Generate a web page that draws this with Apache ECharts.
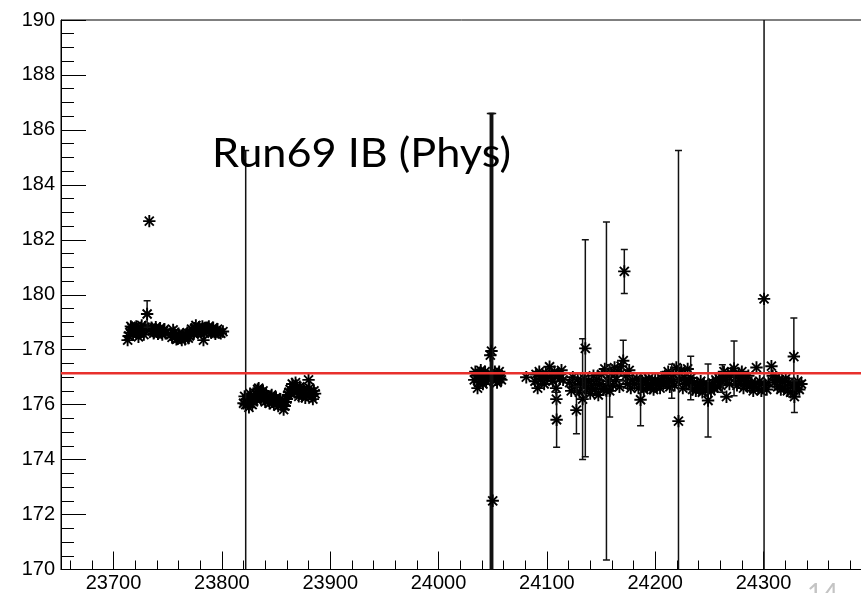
<!DOCTYPE html>
<html>
<head>
<meta charset="utf-8">
<script src="https://cdn.jsdelivr.net/npm/echarts@6/dist/echarts.min.js"></script>
<style>
  html, body { margin: 0; padding: 0; background: #fff; }
  #chart { width: 861px; height: 593px; }
</style>
</head>
<body>
<div id="chart"></div>
<script>
// Gain per run: points whose error bar stays hidden under the marker
const bulkRuns = [
  23713, 23715, 23717, 23719, 23721, 23723, 23725, 23727, 23729, 23734, 23736, 23738, 23740, 23742, 23744, 23746, 23748,
  23753, 23755, 23757, 23759, 23761, 23763, 23765, 23767, 23769, 23771, 23773, 23775, 23777, 23779, 23781, 23783, 23785,
  23787, 23789, 23791, 23793, 23795, 23797, 23801,
  23820, 23823, 23825, 23827, 23829, 23831, 23833, 23835, 23837, 23839, 23841, 23843, 23845, 23847, 23849, 23851, 23853,
  23855, 23857, 23859, 23861, 23863, 23865, 23867, 23869, 23871, 23873, 23875, 23877, 23882, 23884, 23886,
  24033, 24035, 24038, 24040, 24042, 24044, 24046, 24051, 24053, 24055, 24057,
  24081, 24089, 24090, 24091.5, 24093, 24094.5, 24096, 24097.5, 24099, 24100.5, 24102.5, 24104, 24105.5, 24107, 24108.5,
  24108.8, 24110.5, 24112, 24113.5, 24115,
  24121, 24122.5, 24124, 24125.5, 24128.5, 24130, 24131.5, 24134.5, 24137, 24138.5, 24140, 24141.5, 24143, 24144.5, 24146,
  24147.5, 24149, 24150.5, 24152, 24153.5, 24156.5, 24159.5, 24161, 24162.5, 24164, 24165.5, 24167, 24168.5, 24173, 24174.5,
  24176, 24177.5, 24179, 24181, 24183, 24184.5, 24188, 24189.5, 24191, 24192.5, 24194, 24195.5, 24197, 24198.5, 24200,
  24201.5, 24203, 24204.5, 24206, 24207.5, 24209, 24210.5, 24212, 24213.5, 24216.5, 24218, 24219.5, 24222.5, 24224, 24225.5,
  24227, 24228.5, 24230, 24231.5, 24234.5, 24236, 24237.5, 24239, 24240.5, 24242, 24243.5, 24245, 24246.5, 24250, 24251.5,
  24253, 24254.5, 24256, 24257.5, 24259, 24260.5, 24263.5, 24265, 24265.8, 24267, 24268.5, 24270, 24274, 24275.5, 24277,
  24278.5, 24280, 24281.5, 24283, 24284.5, 24286, 24287.5, 24289, 24290.5, 24292, 24295, 24296.5, 24298, 24301.5, 24303,
  24304.5, 24308.5, 24310, 24311.5, 24313, 24314.5, 24316, 24317.5, 24319, 24320.5, 24322, 24323.5, 24325, 24326.5, 24330,
  24331.5, 24333, 24335,
  23714, 23716, 23718, 23720, 23722, 23724, 23726, 23728, 23735, 23737, 23739, 23741, 23743, 23745, 23747, 23754, 23756,
  23758, 23760, 23762, 23764, 23766, 23768, 23770, 23772, 23774, 23776, 23778, 23780, 23782, 23784, 23786, 23788, 23790,
  23792, 23794, 23796, 23799,
  23821, 23824, 23826, 23828, 23830, 23832, 23834, 23836, 23838, 23840, 23842, 23844, 23846, 23848, 23850, 23852, 23854,
  23856, 23858, 23860, 23862, 23864, 23866, 23868, 23870, 23872, 23874, 23876, 23878, 23881, 23883, 23885,
  24034, 24037, 24039, 24041, 24043, 24045, 24052, 24054, 24056, 24058
];
const bulkGain = [
  178.35, 178.62, 178.80, 178.72, 178.85, 178.47, 178.78, 178.70, 178.82, 178.74, 178.68, 178.72, 178.65, 178.70, 178.62, 178.68, 178.60,
  178.55, 178.72, 178.48, 178.40, 178.52, 178.35, 178.45, 178.55, 178.42, 178.60, 178.70, 178.78, 178.66, 178.82, 178.74, 178.35, 178.76,
  178.80, 178.70, 178.72, 178.64, 178.70, 178.62, 178.66,
  176.05, 176.20, 175.90, 176.25, 176.10, 176.40, 176.55, 176.30, 176.45, 176.20, 176.35, 176.15, 176.25, 176.10, 176.20, 176.05, 176.15,
  176.00, 175.82, 176.10, 176.35, 176.55, 176.75, 176.45, 176.60, 176.30, 176.40, 176.55, 176.25, 176.45, 176.20, 176.40,
  176.90, 177.05, 177.15, 176.95, 177.10, 176.85, 177.00, 177.05, 176.90, 177.10, 176.95,
  177.00, 176.85, 177.10, 176.60, 177.20, 176.90, 177.05, 176.75, 177.15, 176.95, 177.38, 177.05, 176.85, 177.20, 176.60,
  176.20, 177.10, 176.95, 177.25, 176.90,
  176.80, 176.50, 177.00, 176.65, 176.90, 176.45, 176.75, 176.95, 176.60, 176.85, 176.40, 176.70, 177.05, 176.55, 176.90,
  176.35, 176.75, 177.10, 176.60, 177.30, 176.85, 177.15, 176.70, 177.35, 176.90, 177.20, 176.65, 177.40, 177.05, 176.75,
  177.25, 176.60, 176.90, 176.75, 176.95, 176.60, 176.85, 176.55, 176.90, 176.70, 176.95, 176.60, 176.80, 176.55, 176.90,
  176.70, 176.85, 176.60, 176.95, 176.75, 177.05, 176.80, 177.20, 176.65, 177.10, 176.70, 177.35, 176.90, 177.25, 176.60,
  177.00, 176.75, 177.30, 176.85, 176.55, 176.80, 176.50, 176.70, 176.60, 176.85, 176.45, 176.75, 176.55, 176.70, 176.50,
  176.80, 176.60, 176.90, 176.65, 176.95, 176.70, 177.20, 176.90, 176.29, 177.05, 176.75, 177.15, 177.00, 176.70, 177.10,
  176.85, 177.20, 176.60, 176.95, 176.75, 177.05, 176.65, 176.80, 176.50, 176.75, 176.60, 176.85, 176.50, 176.70, 176.55,
  176.80, 177.05, 176.80, 177.00, 176.65, 176.90, 176.55, 176.85, 176.60, 176.95, 176.50, 176.80, 176.45, 176.70, 176.60,
  176.85, 176.55, 176.75,
  178.50, 178.85, 178.55, 178.65, 178.75, 178.60, 178.88, 178.55, 178.80, 178.60, 178.82, 178.58, 178.78, 178.55, 178.75, 178.45, 178.62,
  178.38, 178.58, 178.45, 178.55, 178.38, 178.62, 178.50, 178.75, 178.58, 178.88, 178.62, 178.70, 178.85, 178.60, 178.68, 178.85, 178.62,
  178.80, 178.58, 178.75, 178.60,
  176.30, 176.05, 176.40, 176.00, 176.30, 176.20, 176.60, 176.20, 176.50, 176.10, 176.30, 176.05, 176.35, 176.00, 176.25, 175.95, 176.20,
  176.10, 175.95, 176.20, 176.45, 176.40, 176.60, 176.80, 176.50, 176.65, 176.30, 176.50, 176.35, 176.60, 176.30, 176.50,
  177.20, 176.80, 177.25, 176.75, 177.20, 176.95, 177.20, 176.80, 177.20, 176.90
];

// Gain per run: points with a visible error bar
const errRuns = [
  23731, 23733, 23822, 23880, 24036, 24047.8, 24048.9, 24050,
  24109, 24127.3, 24133, 24135.5, 24155, 24158, 24170.5, 24171.5, 24186.5, 24215.3, 24221.5, 24232.8,
  24248.8, 24262, 24272.8, 24293.5, 24300.5, 24307.3, 24328, 24328.5
];
const errGain = [
  179.30, 182.68, 176.00, 176.90, 176.60, 177.80, 177.95, 172.50,
  175.45, 175.80, 176.20, 178.05, 176.50, 176.50, 177.60, 180.85, 176.18, 176.85, 175.40, 176.97,
  176.15, 176.95, 177.32, 177.35, 179.85, 177.40, 177.75, 176.29
];
const errSize = [
  0.48, 0.10, 9.25, 0.18, 0.13, 8.80, 8.65, 14.10,
  1.00, 0.86, 2.20, 3.95, 6.15, 0.95, 0.74, 0.80, 0.95, 0.62, 9.85, 0.79,
  1.33, 0.50, 1.00, 0.16, 12.00, 0.13, 1.40, 0.58
];

// Constant fit over the full run range
const fitGain = 177.14;

// Axis ranges and tick labels
const runMin = 23651.5, runMax = 24400;
const gainMin = 170, gainMax = 190;
const runTickLabels = [23700, 23800, 23900, 24000, 24100, 24200, 24300];

const runMinorTicks = [];
for (let v = 23660; v < runMax; v += 20) {
  if (v % 100 !== 0) runMinorTicks.push(v);
}
const runMajorTicks = runTickLabels.concat([24400]);

const bulkData = bulkRuns.map((r, i) => [r, bulkGain[i], 0]);
const errData = errRuns.map((r, i) => [r, errGain[i], errSize[i]]);

const INK = '#000';
function renderPoint(params, api) {
  const x = api.value(0), y = api.value(1), e = api.value(2);
  const c = api.coord([x, y]);
  const bar = { stroke: '#111', lineWidth: 1.5 };
  const st = { stroke: INK, lineWidth: 1.9 };
  const kids = [];
  if (e > 0) {
    const top = api.coord([x, y + e]);
    const bot = api.coord([x, y - e]);
    if (bot[1] - top[1] > 10) {
      kids.push({ type: 'line', shape: { x1: c[0], y1: top[1], x2: c[0], y2: bot[1] }, style: bar });
      kids.push({ type: 'line', shape: { x1: c[0] - 3.5, y1: top[1], x2: c[0] + 3.5, y2: top[1] }, style: bar });
      kids.push({ type: 'line', shape: { x1: c[0] - 3.5, y1: bot[1], x2: c[0] + 3.5, y2: bot[1] }, style: bar });
    }
  }
  const s = 6.2, d = 4.5;
  kids.push({ type: 'line', shape: { x1: c[0] - s, y1: c[1], x2: c[0] + s, y2: c[1] }, style: st });
  kids.push({ type: 'line', shape: { x1: c[0], y1: c[1] - s, x2: c[0], y2: c[1] + s }, style: st });
  kids.push({ type: 'line', shape: { x1: c[0] - d, y1: c[1] - d, x2: c[0] + d, y2: c[1] + d }, style: st });
  kids.push({ type: 'line', shape: { x1: c[0] - d, y1: c[1] + d, x2: c[0] + d, y2: c[1] - d }, style: st });
  kids.push({ type: 'circle', shape: { cx: c[0], cy: c[1], r: 2 }, style: { fill: INK } });
  return { type: 'group', children: kids };
}

const GRID_LEFT = 61, GRID_TOP = 20;
const PX_PER_RUN = 1.0833;
const GRID_W = (runMax - runMin) * PX_PER_RUN;
const GRID_H = 549.5;

const titleText = 'Run69 IB (Phys)';
const titleFont = '41px Lato';
const measure = document.createElement('canvas').getContext('2d');
measure.font = titleFont;
const titleScale = 299 / measure.measureText(titleText).width;

const axisFont = { fontFamily: 'Liberation Sans', fontSize: 20, color: '#000' };

const chart = echarts.init(document.getElementById('chart'), null, { renderer: 'canvas' });
chart.setOption({
  animation: false,
  backgroundColor: '#fff',
  grid: {
    left: GRID_LEFT, top: GRID_TOP, width: GRID_W, height: GRID_H,
    show: true, borderColor: '#000', borderWidth: 1, backgroundColor: 'transparent',
    containLabel: false, outerBoundsMode: 'none'
  },
  xAxis: [
    {
      type: 'value', min: runMin, max: runMax, position: 'bottom',
      axisLine: { show: true, lineStyle: { color: '#000', width: 1 } },
      axisTick: { show: true, inside: true, length: 18, customValues: runMajorTicks, lineStyle: { color: '#000', width: 1 } },
      axisLabel: { show: true, margin: 4, customValues: runTickLabels, formatter: v => String(v), ...axisFont },
      splitLine: { show: false }
    },
    {
      type: 'value', min: runMin, max: runMax, position: 'bottom',
      axisLine: { show: false },
      axisTick: { show: true, inside: true, length: 9, customValues: runMinorTicks, lineStyle: { color: '#000', width: 1 } },
      axisLabel: { show: false },
      splitLine: { show: false }
    }
  ],
  yAxis: {
    type: 'value', min: gainMin, max: gainMax, interval: 2,
    axisLine: { show: true, lineStyle: { color: '#000', width: 1 } },
    axisTick: { show: true, inside: true, length: 25, lineStyle: { color: '#000', width: 1 } },
    minorTick: { show: true, splitNumber: 4, length: 13, lineStyle: { color: '#000', width: 1 } },
    axisLabel: { show: true, margin: 6, showMinLabel: true, showMaxLabel: true, ...axisFont },
    splitLine: { show: false },
    minorSplitLine: { show: false }
  },
  series: [
    {
      type: 'custom', name: 'gain', xAxisIndex: 0, clip: true, z: 3,
      renderItem: renderPoint, data: bulkData
    },
    {
      type: 'custom', name: 'gain (errors)', xAxisIndex: 0, clip: true, z: 3,
      renderItem: renderPoint, data: errData
    },
    {
      type: 'line', name: 'fit', xAxisIndex: 0, z: 5,
      showSymbol: false, symbol: 'none',
      lineStyle: { color: '#e8302c', width: 2.5 },
      data: [[runMin, fitGain], [runMax, fitGain]]
    }
  ],
  graphic: [
    {
      type: 'text', left: 212, top: 133, z: 10,
      scaleX: titleScale, originX: 0,
      style: { text: titleText, font: titleFont, fill: '#000' }
    },
    {
      type: 'text', left: 807, top: 581, z: 10,
      style: { text: '14', font: '27px Lato', fill: '#c4c4c4' }
    }
  ]
});
</script>
</body>
</html>
